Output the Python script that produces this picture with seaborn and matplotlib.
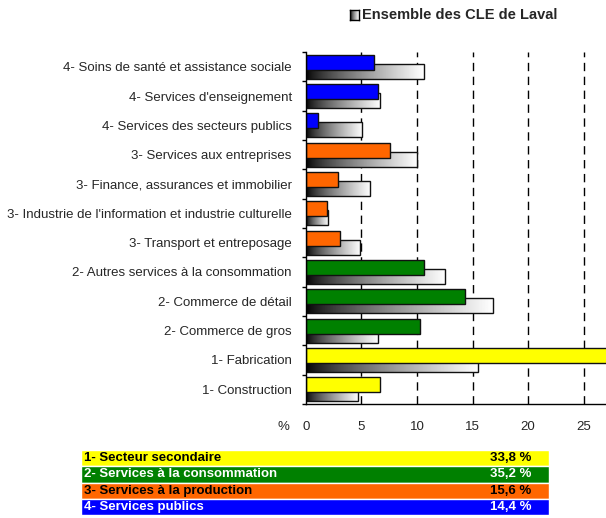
import numpy as np
import pandas as pd
import matplotlib.pyplot as plt
import seaborn as sns

# --- Data ---
categories = [
    "4- Soins de santé et assistance sociale",
    "4- Services d'enseignement",
    "4- Services des secteurs publics",
    "3- Services aux entreprises",
    "3- Finance, assurances et immobilier",
    "3- Industrie de l'information et industrie culturelle",
    "3- Transport et entreposage",
    "2- Autres services à la consommation",
    "2- Commerce de détail",
    "2- Commerce de gros",
    "1- Fabrication",
    "1- Construction",
]
secteur_values = [6.1, 6.5, 1.1, 7.6, 2.9, 1.9, 3.1, 10.6, 14.3, 10.3, 27.1, 6.7]
ensemble_values = [10.6, 6.7, 5.1, 10.0, 5.8, 2.0, 4.9, 12.5, 16.8, 6.5, 15.5, 4.7]
groups = [4, 4, 4, 3, 3, 3, 3, 2, 2, 2, 1, 1]

group_names = ["1- Secteur secondaire", "2- Services à la consommation",
               "3- Services à la production", "4- Services publics"]
group_pcts = ["33,8 %", "35,2 %", "15,6 %", "14,4 %"]
group_colors = {1: "#FFFF00", 2: "#008000", 3: "#FF6600", 4: "#0000FF"}
group_text = {1: "black", 2: "white", 3: "black", 4: "white"}

legend_label = "Ensemble des CLE de Laval"
x_ticks = [0, 5, 10, 15, 20, 25]

# --- Setup ---
sns.set_style("white")
plt.rcParams["font.family"] = ["Liberation Sans", "DejaVu Sans"]

df = pd.DataFrame({
    "cat": categories * 2,
    "value": secteur_values + ensemble_values,
    "serie": ["Secteur"] * len(categories) + ["Ensemble"] * len(categories),
})

fig = plt.figure(figsize=(6.06, 5.18), dpi=100)
ax = fig.add_axes([305.7 / 606, 1 - 404 / 518, 1 - 305.7 / 606, (404 - 52) / 518])

sns.barplot(data=df, y="cat", x="value", hue="serie", orient="h", dodge=True,
            width=0.62, palette=["#888888", "#ffffff"], legend=False, ax=ax,
            errorbar=None)

# resize bars so they overlap like the original
bar_h = 0.51
col_bars, ens_bars = ax.containers[0], ax.containers[1]
grad = np.linspace(0, 1, 256) ** 0.75
grad = grad[np.newaxis, :]
for i, p in enumerate(col_bars):
    c = p.get_y() + p.get_height() / 2
    p.set_y(c - bar_h / 2)
    p.set_height(bar_h)
    p.set_facecolor(group_colors[groups[i]])
    p.set_edgecolor("#111111")
    p.set_linewidth(1.0)
    p.set_zorder(4)
for i, p in enumerate(ens_bars):
    c = p.get_y() + p.get_height() / 2
    p.set_y(c - bar_h / 2)
    p.set_height(bar_h)
    p.set_facecolor("none")
    p.set_edgecolor("#111111")
    p.set_linewidth(1.0)
    p.set_zorder(3)
    w = p.get_width()
    im = ax.imshow(grad, cmap="gray", aspect="auto", zorder=2.5,
                   extent=[0, w, c + bar_h / 2, c - bar_h / 2], vmin=0, vmax=1)
    im.set_clip_path(p)

ax.set_xlim(0, 27)
ax.set_ylim(len(categories) - 0.5, -0.5)

# axes styling
for s in ["top", "right"]:
    ax.spines[s].set_visible(False)
for s in ["left", "bottom"]:
    ax.spines[s].set_color("black")
    ax.spines[s].set_linewidth(1.0)
    ax.spines[s].set_zorder(5)

ax.set_xticks(x_ticks)
ax.set_xticklabels([str(t) for t in x_ticks])
ax.tick_params(axis="x", length=0, pad=12, labelsize=9.5)
ax.tick_params(axis="y", length=0, pad=10, labelsize=9.5)
ax.set_yticks(np.arange(len(categories) + 1) - 0.5, minor=True)
ax.tick_params(axis="y", which="minor", length=3, width=1, color="black", left=True)
ax.set_xlabel("")
ax.set_ylabel("")
for xv in x_ticks[1:]:
    ax.axvline(xv, color="black", lw=1, ls=(0, (6, 4)), zorder=1)
ax.text(-2.0, -23 / 352, "%", transform=ax.get_xaxis_transform(), fontsize=9.5,
        ha="center", va="center")

# legend at top
icon = fig.add_axes([350 / 606, 1 - 20 / 518, 9 / 606, 10 / 518])
icon.imshow(grad, cmap="gray", aspect="auto", vmin=0, vmax=1)
icon.set_xticks([])
icon.set_yticks([])
for s in icon.spines.values():
    s.set_color("black")
    s.set_linewidth(1)
fig.text(362 / 606, 1 - 15 / 518, legend_label, fontsize=10.5, fontweight="bold",
         ha="left", va="center")

# bottom summary table
tab = fig.add_axes([81 / 606, 1 - 515 / 518, (549 - 81) / 606, 65 / 518])
tab.set_xlim(0, 1)
tab.set_ylim(len(group_names) - 0.5, -0.5)
tab.barh(range(len(group_names)), [1] * len(group_names), height=1, left=0,
         color=[group_colors[g] for g in range(1, 5)])
for k, (name, pct) in enumerate(zip(group_names, group_pcts)):
    col = group_text[k + 1]
    tab.text(0.006, k, name, fontsize=9.5, fontweight="bold", color=col,
             ha="left", va="center")
    tab.text(0.962, k, pct, fontsize=9.5, fontweight="bold", color=col,
             ha="right", va="center")
tab.axis("off")

fig.savefig("out.png", dpi=100)
